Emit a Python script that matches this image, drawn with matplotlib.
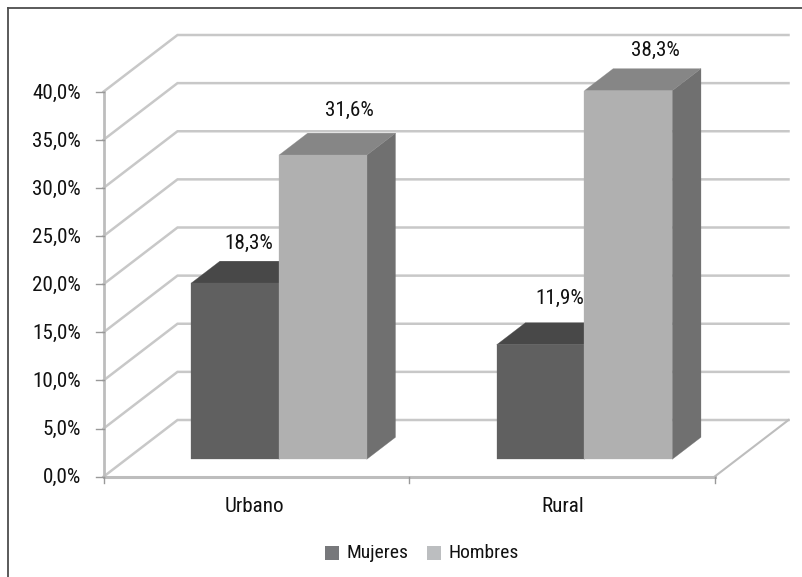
import matplotlib
matplotlib.use("Agg")
import matplotlib.pyplot as plt
from matplotlib import font_manager as fm
from matplotlib.patches import Polygon, Rectangle

categories = ["Urbano", "Rural"]
series_names = ["Mujeres", "Hombres"]
mujeres = [18.3, 11.9]
hombres = [31.6, 38.3]
y_ticks = [0, 5, 10, 15, 20, 25, 30, 35, 40]
y_tick_labels = ["0,0%", "5,0%", "10,0%", "15,0%", "20,0%", "25,0%", "30,0%", "35,0%", "40,0%"]

W, H = 803, 577
X0, CAT_W = 103.5, 305.5
Y0, UNIT = 476.7, 9.625
DEPTH_X, DEPTH_Y = 74.0 / CAT_W, 56.7 / UNIT


def pick_font():
    for name in ["Liberation Sans Narrow", "Roboto Condensed", "Open Sans Condensed", "Noto Sans"]:
        try:
            fm.findfont(name, fallback_to_default=False)
            return name
        except ValueError:
            continue
    return "DejaVu Sans"


plt.rcParams["font.family"] = pick_font()
FS = 15.2
FS_LEG = 14
TXT = "#111111"

fig = plt.figure(figsize=(W / 100, H / 100), dpi=100)
ax = fig.add_axes([0, 0, 1, 1])
ax.set_xlim(-X0 / CAT_W, (W - X0) / CAT_W)
ax.set_ylim((Y0 - H) / UNIT, Y0 / UNIT)
ax.axis("off")


def proj(x, y, d=0.0):
    return (x + d * DEPTH_X, y + d * DEPTH_Y)


def px_x(dx):
    return dx / CAT_W


def px_y(dy):
    return dy / UNIT


# outer frame (left and top only: cropped at the right and bottom)
frame = "#4d4d4d"
ax.plot([px_x(8) - X0 / CAT_W] * 2, [(Y0 - 577) / UNIT, (Y0 - 8) / UNIT], color=frame, lw=1.3, zorder=1)
ax.plot([px_x(8) - X0 / CAT_W, (803 - X0) / CAT_W], [(Y0 - 8) / UNIT] * 2, color=frame, lw=1.3, zorder=1)

# gridlines on the side wall and back wall
grid_c = "#c8c8c8"
n_cat = len(categories)
for t in y_ticks:
    a, b, c = proj(0, t, 0), proj(0, t, 1), proj(n_cat, t, 1)
    ax.plot([a[0], b[0], c[0]], [a[1], b[1], c[1]], color=grid_c, lw=1.8, zorder=2, solid_joinstyle="miter")

# floor edges and axes
axis_c = "#bdbdbd"
a, b = proj(n_cat, 0, 0), proj(n_cat, 0, 1)
ax.plot([a[0], b[0]], [a[1], b[1]], color=axis_c, lw=1.5, zorder=2)
ax.plot([0, n_cat], [0, 0], color=axis_c, lw=2.2, zorder=3)
ax.plot([0, 0], [0, y_ticks[-1]], color=axis_c, lw=2.0, zorder=3)

tick_c = "#999999"
for t, lab in zip(y_ticks, y_tick_labels):
    ax.plot([-px_x(7.5), 0], [t, t], color=tick_c, lw=1.0, zorder=3)
    ax.text(-px_x(22.5), t - px_y(0.5 + t * 0.04), lab, ha="right", va="center", fontsize=FS, color=TXT)
for i in range(n_cat + 1):
    ax.plot([i, i], [0, -px_y(6.5)], color=tick_c, lw=1.0, zorder=3)
category_label_shift = [-1.75, 1.25]
for i, lab in enumerate(categories):
    ax.text(i + 0.5 + px_x(category_label_shift[i]), -px_y(30), lab, ha="center", va="center", fontsize=FS, color=TXT)

# bars
BAR_W = 0.2874
D0, D1 = 0.307, 0.695
styles = [
    {"front": "#606060", "top": "#484848", "side": "#4f4f4f"},
    {"front": "#b0b0b0", "top": "#868686", "side": "#707070"},
]
label_offsets = [[(13.5, 40), (27, 45)], [(19, 46), (27, 40)]]
z = 4
for i in range(n_cat):
    for j, vals in enumerate([mujeres, hombres]):
        v = vals[i]
        x0 = i + 0.5 - BAR_W + j * BAR_W
        x1 = x0 + BAR_W
        st = styles[j]
        side = [proj(x1, 0, D0), proj(x1, 0, D1), proj(x1, v, D1), proj(x1, v, D0)]
        top = [proj(x0, v, D0), proj(x1, v, D0), proj(x1, v, D1), proj(x0, v, D1)]
        front = [proj(x0, 0, D0), proj(x1, 0, D0), proj(x1, v, D0), proj(x0, v, D0)]
        for pts, col in [(side, st["side"]), (top, st["top"]), (front, st["front"])]:
            ax.add_patch(Polygon(pts, closed=True, facecolor=col, edgecolor=col, lw=0.2, zorder=z))
        z += 1

# value labels above the bars
for i in range(n_cat):
    for j, vals in enumerate([mujeres, hombres]):
        v = vals[i]
        x0 = i + 0.5 - BAR_W + j * BAR_W
        fx, fy = proj(x0 + BAR_W / 2, v, D0)
        ox, oy = label_offsets[i][j]
        ax.text(fx + px_x(ox), fy + px_y(oy), f"{v:.1f}".replace(".", ",") + "%",
                ha="center", va="center", fontsize=FS, color=TXT, zorder=20)

# legend
legend_colors = ["#77787b", "#bcbec0"]
legend_x = [325, 427]
for px, name, col in zip(legend_x, series_names, legend_colors):
    ax.add_patch(Rectangle(((px - X0) / CAT_W, (Y0 - 560) / UNIT), 14 / CAT_W, 14 / UNIT,
                           facecolor=col, edgecolor="none", zorder=6))
    ax.text((px + 21 - X0) / CAT_W, (Y0 - 553.5) / UNIT, name, ha="left", va="center", fontsize=FS_LEG, color=TXT)

fig.savefig("out.png", dpi=100, facecolor="white")
